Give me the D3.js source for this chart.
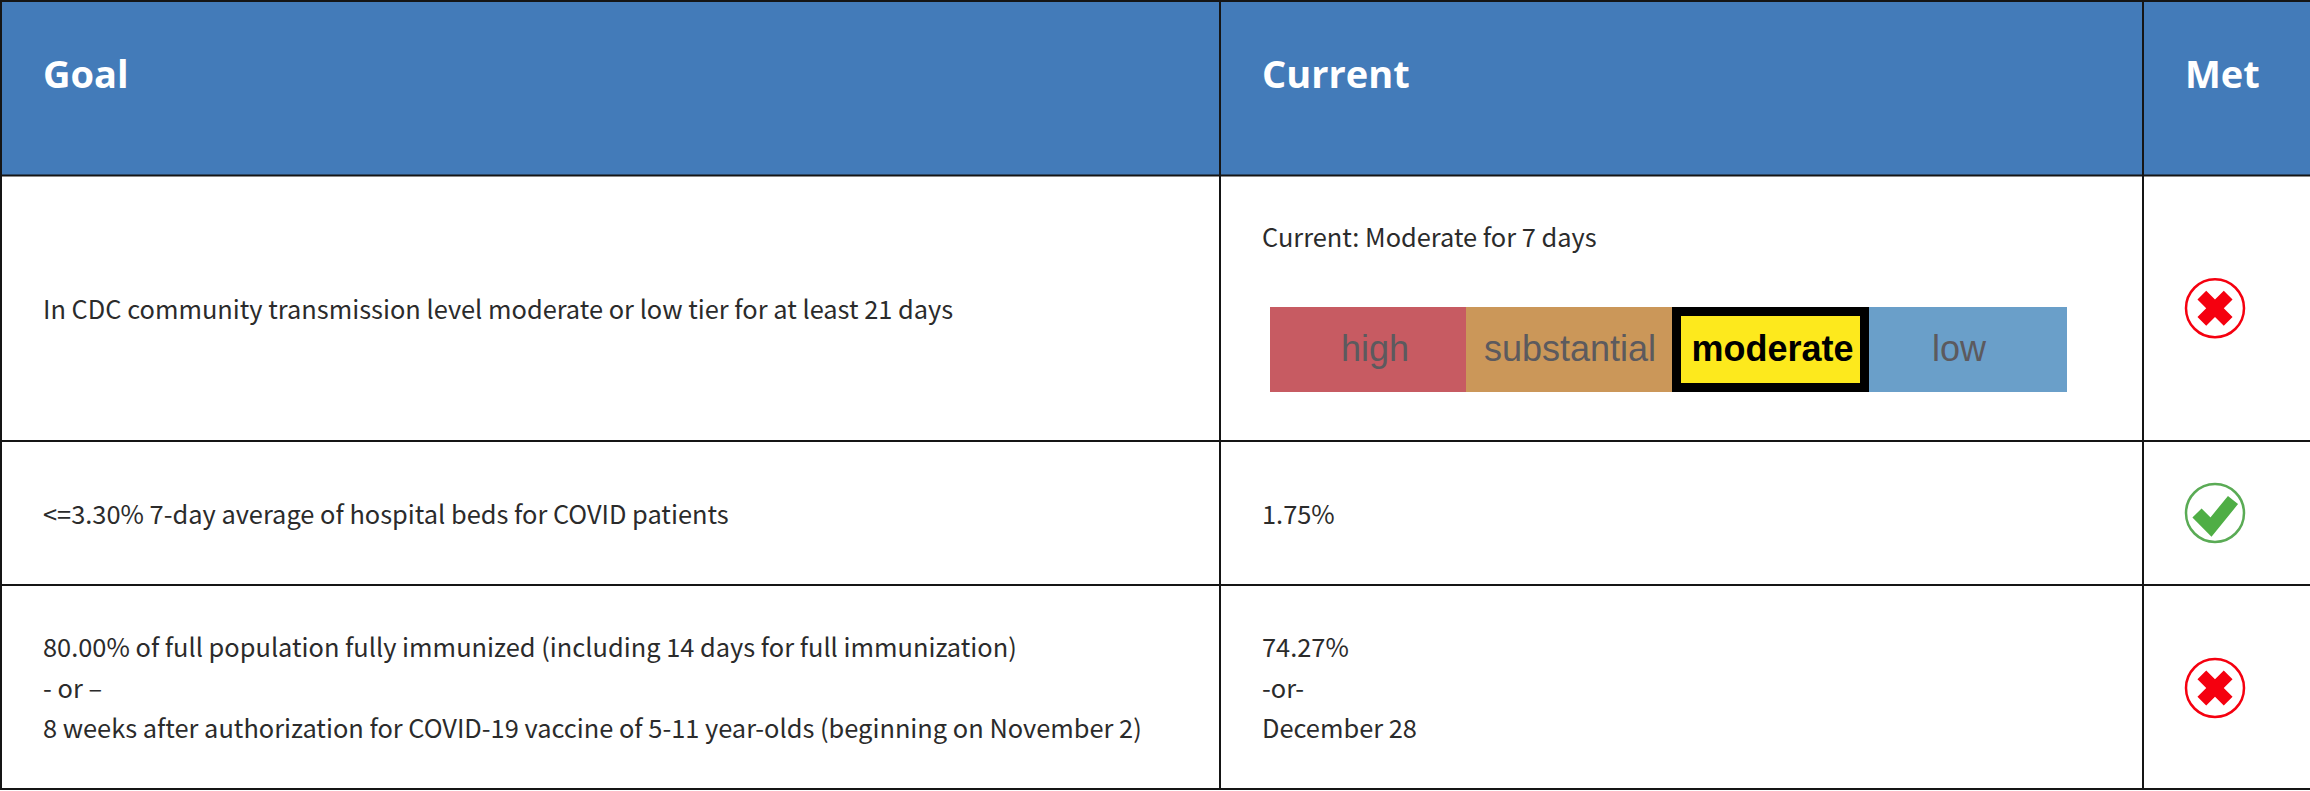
<!DOCTYPE html>
<html>
<head>
<meta charset="utf-8">
<script src="https://cdn.jsdelivr.net/npm/d3@7"></script>
<style>
  html, body { margin: 0; padding: 0; background: #fff; overflow: hidden; }
  svg { display: block; }
</style>
</head>
<body>
<script>
var columns = ["Goal", "Current", "Met"];
var rows = ["transmission", "beds", "immunized"];
var goalLines = [
  ["In CDC community transmission level moderate or low tier for at least 21 days"],
  ["<=3.30% 7-day average of hospital beds for COVID patients"],
  ["80.00% of full population fully immunized (including 14 days for full immunization)",
   "- or \u2013",
   "8 weeks after authorization for COVID-19 vaccine of 5-11 year-olds (beginning on November 2)"]
];
var currentLines = [
  ["Current: Moderate for 7 days"],
  ["1.75%"],
  ["74.27%", "-or-", "December 28"]
];
var metValues = [false, true, false];
var tiers = ["high", "substantial", "moderate", "low"];
var currentTier = "moderate";

var w = 2310, h = 791;
var bodyFont = "'Noto Sans CJK SC', 'Noto Sans', sans-serif";

var svg = d3.select("body").append("svg")
  .attr("width", w)
  .attr("height", h);

// table grid
var colEdge = [1, 1220, 2143, 2309];
var rowEdge = [1, 175.5, 441, 585, 789];
var colX = d3.scaleOrdinal().domain(columns).range(colEdge);
var rowY = d3.scaleOrdinal().domain(["head"].concat(rows)).range(rowEdge);
var rowMid = function(r) { var i = rows.indexOf(r); return (rowEdge[i + 1] + rowEdge[i + 2]) / 2; };

svg.append("rect")
  .attr("x", 0).attr("y", 0)
  .attr("width", w).attr("height", rowEdge[1])
  .attr("fill", "#437bb9");

svg.selectAll("text.head")
  .data(columns)
  .enter()
  .append("text")
  .attr("class", "head")
  .text(function(d) { return d; })
  .attr("x", function(d) { return colX(d) + 42; })
  .attr("y", 88)
  .attr("font-family", "'Open Sans', sans-serif")
  .attr("font-weight", 700)
  .attr("font-size", 38)
  .attr("fill", "#fff");

// cell text
function cellText(lines, col) {
  var data = [];
  rows.forEach(function(r, i) {
    lines[i].forEach(function(t, j) {
      data.push({row: r, text: t, j: j, n: lines[i].length});
    });
  });
  svg.selectAll("text." + col)
    .data(data)
    .enter()
    .append("text")
    .attr("class", col)
    .text(function(d) { return d.text; })
    .attr("x", colX(col) + 42)
    .attr("y", function(d) {
      if (col == "Current" && d.row == "transmission") return 247;
      return rowMid(d.row) + 10.5 + (d.j - (d.n - 1) / 2) * 40.5;
    })
    .attr("font-family", bodyFont)
    .attr("font-size", 25.4)
    .attr("fill", "#2b2b2b");
}
cellText(goalLines, "Goal");
cellText(currentLines, "Current");

// tier strip
var tierEdge = [1270, 1466, 1672, 1869, 2067];
var tierLeft = d3.scaleOrdinal().domain(tiers).range(tierEdge);
var tierRight = d3.scaleOrdinal().domain(tiers).range(tierEdge.slice(1));
var tierColor = d3.scaleOrdinal().domain(tiers).range(["#c75b62", "#cb9759", "#fde91d", "#6a9fc9"]);
var stripTop = 307, stripH = 85, edge = 9;

var tierG = svg.selectAll("g.tier")
  .data(tiers)
  .enter()
  .append("g")
  .attr("class", "tier");

tierG.append("rect")
  .attr("x", function(d) { return tierLeft(d) + (d == currentTier ? edge / 2 : 0); })
  .attr("y", function(d) { return stripTop + (d == currentTier ? edge / 2 : 0); })
  .attr("width", function(d) { return tierRight(d) - tierLeft(d) - (d == currentTier ? edge : 0); })
  .attr("height", function(d) { return stripH - (d == currentTier ? edge : 0); })
  .attr("fill", tierColor)
  .attr("stroke", function(d) { return d == currentTier ? "#000" : "none"; })
  .attr("stroke-width", edge);

tierG.append("text")
  .text(function(d) { return d; })
  .attr("x", function(d) { return (tierLeft(d) + tierRight(d)) / 2 + (d == "substantial" ? 1 : d == "low" ? -9 : d == "high" ? 7 : 2); })
  .attr("y", 361)
  .attr("text-anchor", "middle")
  .attr("font-family", "'Liberation Sans', Arial, sans-serif")
  .attr("font-weight", function(d) { return d == currentTier ? 700 : 400; })
  .attr("font-size", 36)
  .attr("fill", function(d) { return d == currentTier ? "#000" : "#5c5a5e"; });

// met icons
var iconX = 2215, iconR = 29;
var crossPath = d3.symbol().type(d3.symbolCross).size(770)();
var checkLine = d3.line();
var checkPts = [[-18, 0], [-4, 14], [18, -13]];

var icons = svg.selectAll("g.icon")
  .data(metValues)
  .enter()
  .append("g")
  .attr("class", "icon")
  .attr("transform", function(d, i) { return "translate(" + iconX + "," + (rowMid(rows[i]) + (i == 2 ? 1 : 0)) + ")"; });

icons.append("circle")
  .attr("r", iconR)
  .attr("fill", "#fff")
  .attr("stroke", function(d) { return d ? "#5aab55" : "#f5000f"; })
  .attr("stroke-width", 2.5);

icons.filter(function(d) { return !d; })
  .append("path")
  .attr("d", crossPath)
  .attr("transform", "rotate(45)")
  .attr("fill", "#f5000f");

icons.filter(function(d) { return d; })
  .append("path")
  .attr("d", checkLine(checkPts))
  .attr("fill", "none")
  .attr("stroke", "#4fae45")
  .attr("stroke-width", 13);

// grid lines
var gridColor = "#151515";
svg.selectAll("line.h")
  .data(["head"].concat(rows))
  .enter()
  .append("line")
  .attr("class", "h")
  .attr("x1", 0).attr("x2", w)
  .attr("y1", rowY).attr("y2", rowY)
  .attr("stroke", gridColor)
  .attr("stroke-width", 2);

svg.selectAll("line.v")
  .data(columns)
  .enter()
  .append("line")
  .attr("class", "v")
  .attr("y1", 0).attr("y2", rowEdge[4])
  .attr("x1", colX).attr("x2", colX)
  .attr("stroke", gridColor)
  .attr("stroke-width", 2);

svg.append("line")
  .attr("x1", 0).attr("x2", w)
  .attr("y1", rowEdge[4]).attr("y2", rowEdge[4])
  .attr("stroke", gridColor)
  .attr("stroke-width", 2);
</script>
</body>
</html>
